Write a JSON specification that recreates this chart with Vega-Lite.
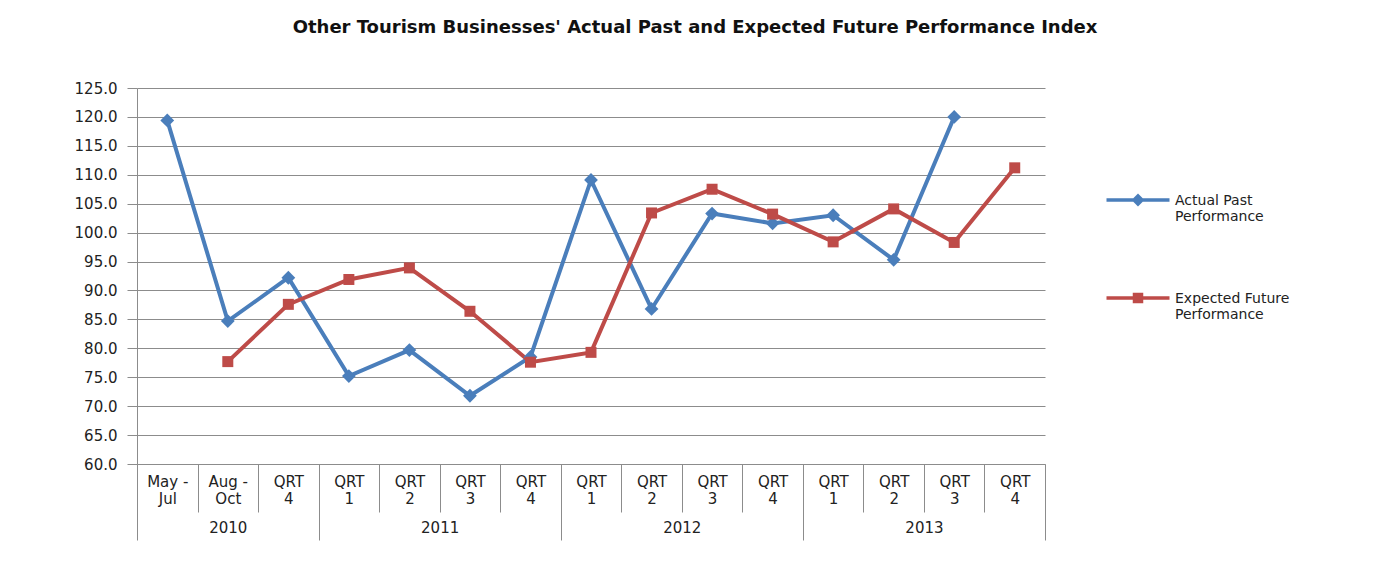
{
  "$schema": "https://vega.github.io/schema/vega-lite/v6.json",
  "width": 908,
  "height": 376,
  "autosize": {"type": "none"},
  "padding": {"left": 137, "top": 88, "right": 343, "bottom": 113},
  "background": "white",
  "config": {
    "font": "DejaVu Sans",
    "view": {"stroke": null},
    "axis": {"labelFont": "DejaVu Sans", "labelColor": "#222222"},
    "legend": {"labelFont": "DejaVu Sans", "labelColor": "#222222"}
  },
  "title": {
    "text": "Other Tourism Businesses' Actual Past and Expected Future Performance Index",
    "font": "DejaVu Sans",
    "fontSize": 18,
    "fontWeight": "bold",
    "color": "#111111",
    "anchor": "middle",
    "dx": 104,
    "offset": 44
  },
  "datasets": {
    "perf": [
      {"idx": 1, "period": "May - Jul", "year": "2010", "series": "Actual Past Performance", "value": 119.4},
      {"idx": 2, "period": "Aug - Oct", "year": "2010", "series": "Actual Past Performance", "value": 84.7},
      {"idx": 3, "period": "QRT 4", "year": "2010", "series": "Actual Past Performance", "value": 92.2},
      {"idx": 4, "period": "QRT 1", "year": "2011", "series": "Actual Past Performance", "value": 75.2},
      {"idx": 5, "period": "QRT 2", "year": "2011", "series": "Actual Past Performance", "value": 79.7},
      {"idx": 6, "period": "QRT 3", "year": "2011", "series": "Actual Past Performance", "value": 71.8},
      {"idx": 7, "period": "QRT 4", "year": "2011", "series": "Actual Past Performance", "value": 78.5},
      {"idx": 8, "period": "QRT 1", "year": "2012", "series": "Actual Past Performance", "value": 109.1},
      {"idx": 9, "period": "QRT 2", "year": "2012", "series": "Actual Past Performance", "value": 86.8},
      {"idx": 10, "period": "QRT 3", "year": "2012", "series": "Actual Past Performance", "value": 103.3},
      {"idx": 11, "period": "QRT 4", "year": "2012", "series": "Actual Past Performance", "value": 101.6},
      {"idx": 12, "period": "QRT 1", "year": "2013", "series": "Actual Past Performance", "value": 103.0},
      {"idx": 13, "period": "QRT 2", "year": "2013", "series": "Actual Past Performance", "value": 95.3},
      {"idx": 14, "period": "QRT 3", "year": "2013", "series": "Actual Past Performance", "value": 120.0},
      {"idx": 2, "period": "Aug - Oct", "year": "2010", "series": "Expected Future Performance", "value": 77.7},
      {"idx": 3, "period": "QRT 4", "year": "2010", "series": "Expected Future Performance", "value": 87.6},
      {"idx": 4, "period": "QRT 1", "year": "2011", "series": "Expected Future Performance", "value": 91.9},
      {"idx": 5, "period": "QRT 2", "year": "2011", "series": "Expected Future Performance", "value": 93.9},
      {"idx": 6, "period": "QRT 3", "year": "2011", "series": "Expected Future Performance", "value": 86.4},
      {"idx": 7, "period": "QRT 4", "year": "2011", "series": "Expected Future Performance", "value": 77.6},
      {"idx": 8, "period": "QRT 1", "year": "2012", "series": "Expected Future Performance", "value": 79.3},
      {"idx": 9, "period": "QRT 2", "year": "2012", "series": "Expected Future Performance", "value": 103.4},
      {"idx": 10, "period": "QRT 3", "year": "2012", "series": "Expected Future Performance", "value": 107.5},
      {"idx": 11, "period": "QRT 4", "year": "2012", "series": "Expected Future Performance", "value": 103.2},
      {"idx": 12, "period": "QRT 1", "year": "2013", "series": "Expected Future Performance", "value": 98.4},
      {"idx": 13, "period": "QRT 2", "year": "2013", "series": "Expected Future Performance", "value": 104.1},
      {"idx": 14, "period": "QRT 3", "year": "2013", "series": "Expected Future Performance", "value": 98.3},
      {"idx": 15, "period": "QRT 4", "year": "2013", "series": "Expected Future Performance", "value": 111.2}
    ]
  },
  "data": {"name": "perf"},
  "resolve": {"axis": {"x": "independent", "y": "independent"}},
  "layer": [
    {
      "transform": [{"filter": "datum.series == 'Actual Past Performance'"}],
      "mark": {"type": "line", "strokeWidth": 4, "color": "#4A7EBB"},
      "encoding": {
        "x": {
          "field": "idx", "type": "quantitative",
          "scale": {"domain": [0.5, 15.5], "nice": false, "zero": false},
          "axis": {
            "orient": "bottom", "title": null,
            "values": [1, 2, 3, 4, 5, 6, 7, 8, 9, 10, 11, 12, 13, 14, 15],
            "labelExpr": "[['May -','Jul'],['Aug -','Oct'],['QRT','4'],['QRT','1'],['QRT','2'],['QRT','3'],['QRT','4'],['QRT','1'],['QRT','2'],['QRT','3'],['QRT','4'],['QRT','1'],['QRT','2'],['QRT','3'],['QRT','4']][datum.value - 1]",
            "ticks": false, "grid": false,
            "domainColor": "#8c8c8c", "domainWidth": 1,
            "labelPadding": 10, "labelFontSize": 15, "labelBaseline": "top", "labelLineHeight": 17,
            "labelFlush": false, "labelOverlap": false, "labelBound": false
          }
        },
        "y": {
          "field": "value", "type": "quantitative",
          "scale": {"domain": [60, 125], "nice": false, "zero": false},
          "axis": {
            "orient": "left", "title": null,
            "values": [60, 65, 70, 75, 80, 85, 90, 95, 100, 105, 110, 115, 120, 125],
            "format": ".1f", "tickSize": 10, "labelPadding": 10, "labelFontSize": 15,
            "labelOverlap": false, "labelFlush": false, "labelBound": false,
            "grid": true, "gridColor": "#8c8c8c", "gridWidth": 1,
            "domainColor": "#8c8c8c", "tickColor": "#8c8c8c"
          }
        }
      }
    },
    {
      "transform": [{"filter": "datum.series == 'Expected Future Performance'"}],
      "mark": {"type": "line", "strokeWidth": 4, "color": "#BE4B48"},
      "encoding": {
        "x": {"field": "idx", "type": "quantitative", "axis": null},
        "y": {"field": "value", "type": "quantitative", "axis": null}
      }
    },
    {
      "transform": [{"filter": "datum.series == 'Actual Past Performance'"}],
      "mark": {"type": "point", "shape": "diamond", "filled": true, "size": 190, "color": "#4A7EBB", "opacity": 1},
      "encoding": {
        "x": {"field": "idx", "type": "quantitative", "axis": null},
        "y": {"field": "value", "type": "quantitative", "axis": null}
      }
    },
    {
      "transform": [{"filter": "datum.series == 'Expected Future Performance'"}],
      "mark": {"type": "point", "shape": "square", "filled": true, "size": 121, "color": "#BE4B48", "opacity": 1},
      "encoding": {
        "x": {"field": "idx", "type": "quantitative", "axis": null},
        "y": {"field": "value", "type": "quantitative", "axis": null}
      }
    },
    {
      "mark": {"type": "point", "filled": true, "strokeWidth": 3.5, "size": 0, "opacity": 1},
      "encoding": {
        "x": {"field": "idx", "type": "quantitative", "axis": null},
        "y": {"field": "value", "type": "quantitative", "axis": null},
        "fill": {
          "field": "series", "type": "nominal",
          "scale": {"domain": ["Actual Past Performance", "Expected Future Performance"], "range": ["#4A7EBB", "#BE4B48"]},
          "legend": {
            "orient": "none", "legendX": 994, "legendY": 99, "title": null, "padding": 0,
            "symbolSize": 100, "symbolStrokeWidth": 3.5, "symbolOpacity": 1,
            "labelOffset": 30, "labelFontSize": 14, "labelLimit": 0, "labelBaseline": "top", "labelLineHeight": 17,
            "rowPadding": 61,
            "labelExpr": "datum.label == 'Actual Past Performance' ? ['Actual Past', 'Performance'] : ['Expected Future', 'Performance']"
          }
        },
        "stroke": {
          "field": "series", "type": "nominal",
          "scale": {"domain": ["Actual Past Performance", "Expected Future Performance"], "range": ["#4A7EBB", "#BE4B48"]}
        },
        "shape": {
          "field": "series", "type": "nominal",
          "scale": {"domain": ["Actual Past Performance", "Expected Future Performance"], "range": ["M-6.3,1.2H6.3M0,0.4L0.8,1.2L0,2L-0.8,1.2Z", "M-6.3,1.2H6.3M-0.7,0.5H0.7V1.9H-0.7Z"]}
        }
      }
    },
    {
      "mark": {"type": "point", "opacity": 0},
      "encoding": {
        "x": {
          "field": "idx", "type": "quantitative",
          "axis": {
            "orient": "bottom", "title": null,
            "values": [0.5, 1.5, 2.5, 3.5, 4.5, 5.5, 6.5, 7.5, 8.5, 9.5, 10.5, 11.5, 12.5, 13.5, 14.5, 15.5],
            "labels": false, "domain": false, "grid": false, "ticks": true,
            "tickColor": "#8c8c8c", "tickWidth": 1,
            "tickSize": {"condition": {"test": "datum.value == 0.5 || datum.value == 3.5 || datum.value == 7.5 || datum.value == 11.5 || datum.value == 15.5", "value": 76}, "value": 48}
          }
        },
        "y": {"field": "value", "type": "quantitative", "axis": null}
      }
    },
    {
      "mark": {"type": "point", "opacity": 0},
      "encoding": {
        "x": {
          "field": "idx", "type": "quantitative",
          "axis": {
            "orient": "bottom", "title": null,
            "values": [2, 5.5, 9.5, 13.5],
            "labelExpr": "datum.value == 2 ? '2010' : datum.value == 5.5 ? '2011' : datum.value == 9.5 ? '2012' : '2013'",
            "ticks": false, "domain": false, "grid": false,
            "labelPadding": 56, "labelFontSize": 15, "labelBaseline": "top",
            "labelFlush": false, "labelOverlap": false, "labelBound": false
          }
        },
        "y": {"field": "value", "type": "quantitative", "axis": null}
      }
    }
  ]
}
